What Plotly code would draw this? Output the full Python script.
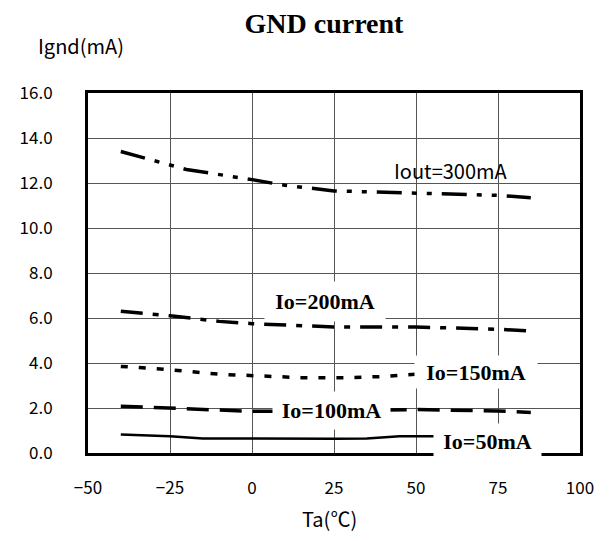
import plotly.graph_objects as go

# ambient temperature (degC) and GND current (mA) per output current
ta_300 = [-40, -20, 0, 10, 25, 50, 75, 85]
ignd_300 = [13.4, 12.6, 12.15, 11.9, 11.65, 11.55, 11.45, 11.35]

ta_200 = [-40, -25, -10, 0, 25, 50, 75, 85]
ignd_200 = [6.3, 6.1, 5.85, 5.75, 5.6, 5.6, 5.5, 5.42]

ta_150 = [-40, -25, -10, 0, 15, 30, 40, 50, 85]
ignd_150 = [3.85, 3.7, 3.5, 3.45, 3.35, 3.35, 3.4, 3.5, 3.5]

ta_100 = [-40, -25, -10, 0, 25, 50, 75, 85]
ignd_100 = [2.08, 1.98, 1.9, 1.85, 1.88, 1.93, 1.87, 1.8]

ta_50 = [-40, -25, -15, 0, 25, 35, 45, 85]
ignd_50 = [0.82, 0.75, 0.65, 0.63, 0.63, 0.65, 0.75, 0.75]

sans = "Noto Sans CJK JP, sans-serif"
serif = "Liberation Serif, serif"

# page body has an 8px margin, so the figure is a bit smaller than the window
W, H = 603, 533

fig = go.Figure()

series = [
    (ta_300, ignd_300, "25px,10px,5px,10px,5px,10px", 3.5),
    (ta_200, ignd_200, "22px,10px,6px,10px", 3.5),
    (ta_150, ignd_150, "7px,11px", 3.5),
    (ta_100, ignd_100, "22px,11px", 3.5),
    (ta_50, ignd_50, "solid", 2.5),
]
for xs, ys, dash, w in series:
    fig.add_trace(go.Scatter(x=xs, y=ys, mode="lines",
                             line=dict(color="black", width=w, dash=dash),
                             showlegend=False, hoverinfo="skip"))

# curve labels (x, y, text, box width, box height)
labels = [
    (22.4, 6.74, "Io=200mA", 118, 37),
    (68.3, 3.59, "Io=150mA", 120, 30),
    (24.3, 1.9, "Io=100mA", 115, 35),
    (71.9, 0.52, "Io=50mA", 105, 33),
]
for x, y, txt, bw, bh in labels:
    fig.add_annotation(x=x, y=y, text=f"<b>{txt}</b>", showarrow=False,
                       font=dict(family=serif, size=22, color="black"),
                       bgcolor="white", width=bw, height=bh)

fig.add_annotation(x=60.7, y=12.56, text="Iout=300mA", showarrow=False,
                   font=dict(family=sans, size=20, color="black"))

fig.add_annotation(x=-0.014, y=1.133, xref="paper", yref="paper",
                   xanchor="center", yanchor="middle",
                   text="Ignd(mA)", showarrow=False,
                   font=dict(family=sans, size=20, color="black"))

fig.add_annotation(x=0.491, y=-0.183, xref="paper", yref="paper",
                   xanchor="center", yanchor="middle",
                   text="Ta(℃)", showarrow=False,
                   font=dict(family=sans, size=20, color="black"))

fig.update_layout(
    title=dict(text="<b>GND current</b>", x=316 / W, y=1 - 15 / H,
               xanchor="center", yanchor="middle",
               font=dict(family=serif, size=28, color="black")),
    width=W, height=H,
    margin=dict(l=77, r=31, t=85, b=88),
    plot_bgcolor="white", paper_bgcolor="white",
    xaxis=dict(range=[-50, 100], dtick=25, tick0=-50,
               showgrid=True, gridcolor="#555555", gridwidth=1,
               showline=True, linecolor="black", linewidth=3, mirror=True,
               zeroline=False, ticks="", ticklabelstandoff=18,
               tickfont=dict(family=sans, size=17, color="black")),
    yaxis=dict(range=[0, 16], dtick=2, tickformat=".1f",
               showgrid=True, gridcolor="#555555", gridwidth=1,
               showline=True, linecolor="black", linewidth=3, mirror=True,
               zeroline=False, ticks="", ticklabelstandoff=29,
               tickfont=dict(family=sans, size=17, color="black")),
)

fig.write_html("out.html")
